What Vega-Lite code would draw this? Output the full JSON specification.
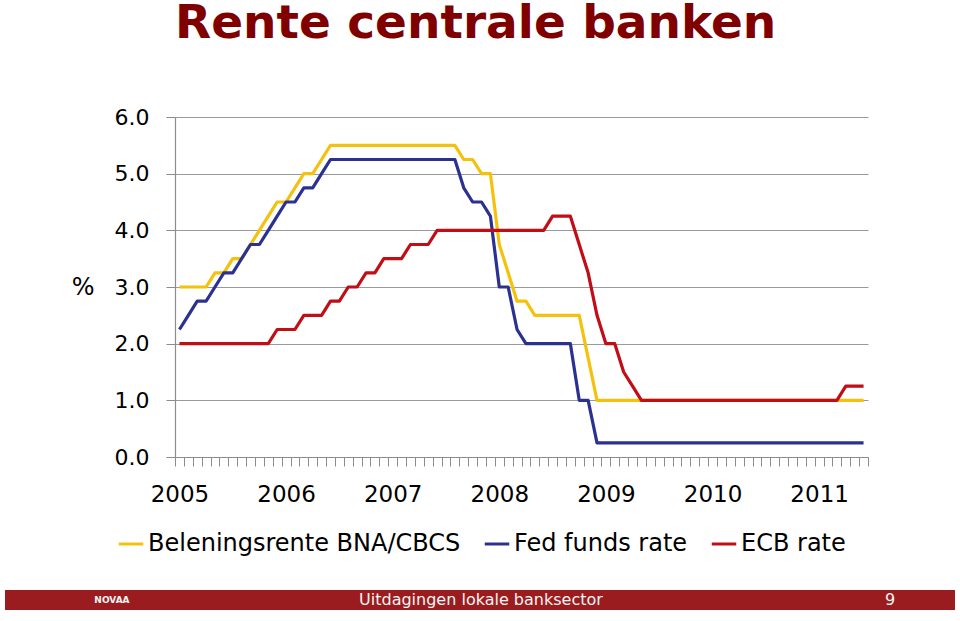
{
  "$schema": "https://vega.github.io/schema/vega-lite/v6.json",
  "background": "white",
  "padding": {"left": 5, "right": 5, "top": 0, "bottom": 0},
  "spacing": 84,
  "config": {"view": {"stroke": null}},
  "vconcat": [
    {
      "spacing": 5,
      "hconcat": [
        {
          "width": 61,
          "height": 340,
          "data": {"values": [{"t": ""}]},
          "mark": {"type": "text"},
          "encoding": {"text": {"field": "t"}}
        },
        {
          "width": 693,
          "height": 340,
          "title": {"text": "Rente centrale banken", "font": "DejaVu Sans", "fontSize": 47, "fontWeight": "bold", "color": "#800000", "anchor": "start", "frame": "group", "offset": 58},
          "data": {"values": [
            {"m":"2005-01","s":"Beleningsrente BNA/CBCS","v":3.0},{"m":"2005-02","s":"Beleningsrente BNA/CBCS","v":3.0},{"m":"2005-03","s":"Beleningsrente BNA/CBCS","v":3.0},{"m":"2005-04","s":"Beleningsrente BNA/CBCS","v":3.0},{"m":"2005-05","s":"Beleningsrente BNA/CBCS","v":3.25},{"m":"2005-06","s":"Beleningsrente BNA/CBCS","v":3.25},{"m":"2005-07","s":"Beleningsrente BNA/CBCS","v":3.5},{"m":"2005-08","s":"Beleningsrente BNA/CBCS","v":3.5},{"m":"2005-09","s":"Beleningsrente BNA/CBCS","v":3.75},{"m":"2005-10","s":"Beleningsrente BNA/CBCS","v":4.0},{"m":"2005-11","s":"Beleningsrente BNA/CBCS","v":4.25},{"m":"2005-12","s":"Beleningsrente BNA/CBCS","v":4.5},
            {"m":"2006-01","s":"Beleningsrente BNA/CBCS","v":4.5},{"m":"2006-02","s":"Beleningsrente BNA/CBCS","v":4.75},{"m":"2006-03","s":"Beleningsrente BNA/CBCS","v":5.0},{"m":"2006-04","s":"Beleningsrente BNA/CBCS","v":5.0},{"m":"2006-05","s":"Beleningsrente BNA/CBCS","v":5.25},{"m":"2006-06","s":"Beleningsrente BNA/CBCS","v":5.5},{"m":"2006-07","s":"Beleningsrente BNA/CBCS","v":5.5},{"m":"2006-08","s":"Beleningsrente BNA/CBCS","v":5.5},{"m":"2006-09","s":"Beleningsrente BNA/CBCS","v":5.5},{"m":"2006-10","s":"Beleningsrente BNA/CBCS","v":5.5},{"m":"2006-11","s":"Beleningsrente BNA/CBCS","v":5.5},{"m":"2006-12","s":"Beleningsrente BNA/CBCS","v":5.5},
            {"m":"2007-01","s":"Beleningsrente BNA/CBCS","v":5.5},{"m":"2007-02","s":"Beleningsrente BNA/CBCS","v":5.5},{"m":"2007-03","s":"Beleningsrente BNA/CBCS","v":5.5},{"m":"2007-04","s":"Beleningsrente BNA/CBCS","v":5.5},{"m":"2007-05","s":"Beleningsrente BNA/CBCS","v":5.5},{"m":"2007-06","s":"Beleningsrente BNA/CBCS","v":5.5},{"m":"2007-07","s":"Beleningsrente BNA/CBCS","v":5.5},{"m":"2007-08","s":"Beleningsrente BNA/CBCS","v":5.5},{"m":"2007-09","s":"Beleningsrente BNA/CBCS","v":5.25},{"m":"2007-10","s":"Beleningsrente BNA/CBCS","v":5.25},{"m":"2007-11","s":"Beleningsrente BNA/CBCS","v":5.0},{"m":"2007-12","s":"Beleningsrente BNA/CBCS","v":5.0},
            {"m":"2008-01","s":"Beleningsrente BNA/CBCS","v":3.75},{"m":"2008-02","s":"Beleningsrente BNA/CBCS","v":3.25},{"m":"2008-03","s":"Beleningsrente BNA/CBCS","v":2.75},{"m":"2008-04","s":"Beleningsrente BNA/CBCS","v":2.75},{"m":"2008-05","s":"Beleningsrente BNA/CBCS","v":2.5},{"m":"2008-06","s":"Beleningsrente BNA/CBCS","v":2.5},{"m":"2008-07","s":"Beleningsrente BNA/CBCS","v":2.5},{"m":"2008-08","s":"Beleningsrente BNA/CBCS","v":2.5},{"m":"2008-09","s":"Beleningsrente BNA/CBCS","v":2.5},{"m":"2008-10","s":"Beleningsrente BNA/CBCS","v":2.5},{"m":"2008-11","s":"Beleningsrente BNA/CBCS","v":1.75},{"m":"2008-12","s":"Beleningsrente BNA/CBCS","v":1.0},
            {"m":"2009-01","s":"Beleningsrente BNA/CBCS","v":1.0},{"m":"2009-02","s":"Beleningsrente BNA/CBCS","v":1.0},{"m":"2009-03","s":"Beleningsrente BNA/CBCS","v":1.0},{"m":"2009-04","s":"Beleningsrente BNA/CBCS","v":1.0},{"m":"2009-05","s":"Beleningsrente BNA/CBCS","v":1.0},{"m":"2009-06","s":"Beleningsrente BNA/CBCS","v":1.0},{"m":"2009-07","s":"Beleningsrente BNA/CBCS","v":1.0},{"m":"2009-08","s":"Beleningsrente BNA/CBCS","v":1.0},{"m":"2009-09","s":"Beleningsrente BNA/CBCS","v":1.0},{"m":"2009-10","s":"Beleningsrente BNA/CBCS","v":1.0},{"m":"2009-11","s":"Beleningsrente BNA/CBCS","v":1.0},{"m":"2009-12","s":"Beleningsrente BNA/CBCS","v":1.0},
            {"m":"2010-01","s":"Beleningsrente BNA/CBCS","v":1.0},{"m":"2010-02","s":"Beleningsrente BNA/CBCS","v":1.0},{"m":"2010-03","s":"Beleningsrente BNA/CBCS","v":1.0},{"m":"2010-04","s":"Beleningsrente BNA/CBCS","v":1.0},{"m":"2010-05","s":"Beleningsrente BNA/CBCS","v":1.0},{"m":"2010-06","s":"Beleningsrente BNA/CBCS","v":1.0},{"m":"2010-07","s":"Beleningsrente BNA/CBCS","v":1.0},{"m":"2010-08","s":"Beleningsrente BNA/CBCS","v":1.0},{"m":"2010-09","s":"Beleningsrente BNA/CBCS","v":1.0},{"m":"2010-10","s":"Beleningsrente BNA/CBCS","v":1.0},{"m":"2010-11","s":"Beleningsrente BNA/CBCS","v":1.0},{"m":"2010-12","s":"Beleningsrente BNA/CBCS","v":1.0},
            {"m":"2011-01","s":"Beleningsrente BNA/CBCS","v":1.0},{"m":"2011-02","s":"Beleningsrente BNA/CBCS","v":1.0},{"m":"2011-03","s":"Beleningsrente BNA/CBCS","v":1.0},{"m":"2011-04","s":"Beleningsrente BNA/CBCS","v":1.0},{"m":"2011-05","s":"Beleningsrente BNA/CBCS","v":1.0},{"m":"2011-06","s":"Beleningsrente BNA/CBCS","v":1.0},

            {"m":"2005-01","s":"Fed funds rate","v":2.25},{"m":"2005-02","s":"Fed funds rate","v":2.5},{"m":"2005-03","s":"Fed funds rate","v":2.75},{"m":"2005-04","s":"Fed funds rate","v":2.75},{"m":"2005-05","s":"Fed funds rate","v":3.0},{"m":"2005-06","s":"Fed funds rate","v":3.25},{"m":"2005-07","s":"Fed funds rate","v":3.25},{"m":"2005-08","s":"Fed funds rate","v":3.5},{"m":"2005-09","s":"Fed funds rate","v":3.75},{"m":"2005-10","s":"Fed funds rate","v":3.75},{"m":"2005-11","s":"Fed funds rate","v":4.0},{"m":"2005-12","s":"Fed funds rate","v":4.25},
            {"m":"2006-01","s":"Fed funds rate","v":4.5},{"m":"2006-02","s":"Fed funds rate","v":4.5},{"m":"2006-03","s":"Fed funds rate","v":4.75},{"m":"2006-04","s":"Fed funds rate","v":4.75},{"m":"2006-05","s":"Fed funds rate","v":5.0},{"m":"2006-06","s":"Fed funds rate","v":5.25},{"m":"2006-07","s":"Fed funds rate","v":5.25},{"m":"2006-08","s":"Fed funds rate","v":5.25},{"m":"2006-09","s":"Fed funds rate","v":5.25},{"m":"2006-10","s":"Fed funds rate","v":5.25},{"m":"2006-11","s":"Fed funds rate","v":5.25},{"m":"2006-12","s":"Fed funds rate","v":5.25},
            {"m":"2007-01","s":"Fed funds rate","v":5.25},{"m":"2007-02","s":"Fed funds rate","v":5.25},{"m":"2007-03","s":"Fed funds rate","v":5.25},{"m":"2007-04","s":"Fed funds rate","v":5.25},{"m":"2007-05","s":"Fed funds rate","v":5.25},{"m":"2007-06","s":"Fed funds rate","v":5.25},{"m":"2007-07","s":"Fed funds rate","v":5.25},{"m":"2007-08","s":"Fed funds rate","v":5.25},{"m":"2007-09","s":"Fed funds rate","v":4.75},{"m":"2007-10","s":"Fed funds rate","v":4.5},{"m":"2007-11","s":"Fed funds rate","v":4.5},{"m":"2007-12","s":"Fed funds rate","v":4.25},
            {"m":"2008-01","s":"Fed funds rate","v":3.0},{"m":"2008-02","s":"Fed funds rate","v":3.0},{"m":"2008-03","s":"Fed funds rate","v":2.25},{"m":"2008-04","s":"Fed funds rate","v":2.0},{"m":"2008-05","s":"Fed funds rate","v":2.0},{"m":"2008-06","s":"Fed funds rate","v":2.0},{"m":"2008-07","s":"Fed funds rate","v":2.0},{"m":"2008-08","s":"Fed funds rate","v":2.0},{"m":"2008-09","s":"Fed funds rate","v":2.0},{"m":"2008-10","s":"Fed funds rate","v":1.0},{"m":"2008-11","s":"Fed funds rate","v":1.0},{"m":"2008-12","s":"Fed funds rate","v":0.25},
            {"m":"2009-01","s":"Fed funds rate","v":0.25},{"m":"2009-02","s":"Fed funds rate","v":0.25},{"m":"2009-03","s":"Fed funds rate","v":0.25},{"m":"2009-04","s":"Fed funds rate","v":0.25},{"m":"2009-05","s":"Fed funds rate","v":0.25},{"m":"2009-06","s":"Fed funds rate","v":0.25},{"m":"2009-07","s":"Fed funds rate","v":0.25},{"m":"2009-08","s":"Fed funds rate","v":0.25},{"m":"2009-09","s":"Fed funds rate","v":0.25},{"m":"2009-10","s":"Fed funds rate","v":0.25},{"m":"2009-11","s":"Fed funds rate","v":0.25},{"m":"2009-12","s":"Fed funds rate","v":0.25},
            {"m":"2010-01","s":"Fed funds rate","v":0.25},{"m":"2010-02","s":"Fed funds rate","v":0.25},{"m":"2010-03","s":"Fed funds rate","v":0.25},{"m":"2010-04","s":"Fed funds rate","v":0.25},{"m":"2010-05","s":"Fed funds rate","v":0.25},{"m":"2010-06","s":"Fed funds rate","v":0.25},{"m":"2010-07","s":"Fed funds rate","v":0.25},{"m":"2010-08","s":"Fed funds rate","v":0.25},{"m":"2010-09","s":"Fed funds rate","v":0.25},{"m":"2010-10","s":"Fed funds rate","v":0.25},{"m":"2010-11","s":"Fed funds rate","v":0.25},{"m":"2010-12","s":"Fed funds rate","v":0.25},
            {"m":"2011-01","s":"Fed funds rate","v":0.25},{"m":"2011-02","s":"Fed funds rate","v":0.25},{"m":"2011-03","s":"Fed funds rate","v":0.25},{"m":"2011-04","s":"Fed funds rate","v":0.25},{"m":"2011-05","s":"Fed funds rate","v":0.25},{"m":"2011-06","s":"Fed funds rate","v":0.25},

            {"m":"2005-01","s":"ECB rate","v":2.0},{"m":"2005-02","s":"ECB rate","v":2.0},{"m":"2005-03","s":"ECB rate","v":2.0},{"m":"2005-04","s":"ECB rate","v":2.0},{"m":"2005-05","s":"ECB rate","v":2.0},{"m":"2005-06","s":"ECB rate","v":2.0},{"m":"2005-07","s":"ECB rate","v":2.0},{"m":"2005-08","s":"ECB rate","v":2.0},{"m":"2005-09","s":"ECB rate","v":2.0},{"m":"2005-10","s":"ECB rate","v":2.0},{"m":"2005-11","s":"ECB rate","v":2.0},{"m":"2005-12","s":"ECB rate","v":2.25},
            {"m":"2006-01","s":"ECB rate","v":2.25},{"m":"2006-02","s":"ECB rate","v":2.25},{"m":"2006-03","s":"ECB rate","v":2.5},{"m":"2006-04","s":"ECB rate","v":2.5},{"m":"2006-05","s":"ECB rate","v":2.5},{"m":"2006-06","s":"ECB rate","v":2.75},{"m":"2006-07","s":"ECB rate","v":2.75},{"m":"2006-08","s":"ECB rate","v":3.0},{"m":"2006-09","s":"ECB rate","v":3.0},{"m":"2006-10","s":"ECB rate","v":3.25},{"m":"2006-11","s":"ECB rate","v":3.25},{"m":"2006-12","s":"ECB rate","v":3.5},
            {"m":"2007-01","s":"ECB rate","v":3.5},{"m":"2007-02","s":"ECB rate","v":3.5},{"m":"2007-03","s":"ECB rate","v":3.75},{"m":"2007-04","s":"ECB rate","v":3.75},{"m":"2007-05","s":"ECB rate","v":3.75},{"m":"2007-06","s":"ECB rate","v":4.0},{"m":"2007-07","s":"ECB rate","v":4.0},{"m":"2007-08","s":"ECB rate","v":4.0},{"m":"2007-09","s":"ECB rate","v":4.0},{"m":"2007-10","s":"ECB rate","v":4.0},{"m":"2007-11","s":"ECB rate","v":4.0},{"m":"2007-12","s":"ECB rate","v":4.0},
            {"m":"2008-01","s":"ECB rate","v":4.0},{"m":"2008-02","s":"ECB rate","v":4.0},{"m":"2008-03","s":"ECB rate","v":4.0},{"m":"2008-04","s":"ECB rate","v":4.0},{"m":"2008-05","s":"ECB rate","v":4.0},{"m":"2008-06","s":"ECB rate","v":4.0},{"m":"2008-07","s":"ECB rate","v":4.25},{"m":"2008-08","s":"ECB rate","v":4.25},{"m":"2008-09","s":"ECB rate","v":4.25},{"m":"2008-10","s":"ECB rate","v":3.75},{"m":"2008-11","s":"ECB rate","v":3.25},{"m":"2008-12","s":"ECB rate","v":2.5},
            {"m":"2009-01","s":"ECB rate","v":2.0},{"m":"2009-02","s":"ECB rate","v":2.0},{"m":"2009-03","s":"ECB rate","v":1.5},{"m":"2009-04","s":"ECB rate","v":1.25},{"m":"2009-05","s":"ECB rate","v":1.0},{"m":"2009-06","s":"ECB rate","v":1.0},{"m":"2009-07","s":"ECB rate","v":1.0},{"m":"2009-08","s":"ECB rate","v":1.0},{"m":"2009-09","s":"ECB rate","v":1.0},{"m":"2009-10","s":"ECB rate","v":1.0},{"m":"2009-11","s":"ECB rate","v":1.0},{"m":"2009-12","s":"ECB rate","v":1.0},
            {"m":"2010-01","s":"ECB rate","v":1.0},{"m":"2010-02","s":"ECB rate","v":1.0},{"m":"2010-03","s":"ECB rate","v":1.0},{"m":"2010-04","s":"ECB rate","v":1.0},{"m":"2010-05","s":"ECB rate","v":1.0},{"m":"2010-06","s":"ECB rate","v":1.0},{"m":"2010-07","s":"ECB rate","v":1.0},{"m":"2010-08","s":"ECB rate","v":1.0},{"m":"2010-09","s":"ECB rate","v":1.0},{"m":"2010-10","s":"ECB rate","v":1.0},{"m":"2010-11","s":"ECB rate","v":1.0},{"m":"2010-12","s":"ECB rate","v":1.0},
            {"m":"2011-01","s":"ECB rate","v":1.0},{"m":"2011-02","s":"ECB rate","v":1.0},{"m":"2011-03","s":"ECB rate","v":1.0},{"m":"2011-04","s":"ECB rate","v":1.25},{"m":"2011-05","s":"ECB rate","v":1.25},{"m":"2011-06","s":"ECB rate","v":1.25}
          ]},
          "mark": {"type": "line", "strokeWidth": 3.2, "strokeJoin": "round"},
          "encoding": {
            "x": {
              "field": "m", "type": "ordinal", "bandPosition": 0.5,
              "scale": {"type": "band", "paddingInner": 0, "paddingOuter": 0},
              "axis": {
                "title": null,
                "labelExpr": "substring(datum.value, 5, 7) == '01' ? substring(datum.value, 0, 4) : ''",
                "labelAngle": 0, "labelFont": "DejaVu Sans", "labelFontSize": 23, "labelColor": "black",
                "labelPadding": 17, "labelOverlap": false, "labelBound": false,
                "tickBand": "extent", "tickSize": 9, "tickColor": "#8c8c8c", "tickWidth": 1,
                "domainColor": "#8c8c8c", "domainWidth": 1.2, "grid": false
              }
            },
            "y": {
              "field": "v", "type": "quantitative",
              "scale": {"domain": [0, 6], "nice": false},
              "axis": {
                "values": [0, 1, 2, 3, 4, 5, 6], "format": ".1f",
                "title": "%", "titleAngle": 0, "titleFont": "DejaVu Sans", "titleFontSize": 24, "titleFontWeight": "normal", "titleColor": "black",
                "titlePadding": 20, "titleAlign": "right", "titleBaseline": "middle",
                "labelFont": "DejaVu Sans", "labelFontSize": 22, "labelColor": "black", "labelPadding": 17,
                "tickSize": 9, "tickColor": "#8c8c8c", "domainColor": "#8c8c8c", "domainWidth": 1.2,
                "gridColor": "#9a9a9a", "gridWidth": 1.2
              }
            },
            "color": {
              "field": "s", "type": "nominal",
              "scale": {"domain": ["Beleningsrente BNA/CBCS", "Fed funds rate", "ECB rate"], "range": ["#F4C20D", "#2B3190", "#C00D16"]},
              "legend": {
                "title": null, "orient": "none", "direction": "horizontal", "legendX": 112, "legendY": 413,
                "labelFont": "DejaVu Sans", "labelFontSize": 24, "labelColor": "black", "labelLimit": 400,
                "symbolType": "stroke", "symbolSize": 600, "symbolStrokeWidth": 3, "labelOffset": 3,
                "columnPadding": 17, "padding": 0
              }
            }
          }
        }
      ]
    },
    {
      "width": 950,
      "height": 20,
      "view": {"fill": "#9B1C1F", "stroke": null},
      "data": {"values": [
        {"pos": 0.501, "label": "Uitdagingen lokale banksector", "kind": "text"},
        {"pos": 0.9316, "label": "9", "kind": "text"},
        {"pos": 0.1126, "label": "NOVAA", "kind": "logo"}
      ]},
      "layer": [
        {
          "transform": [{"filter": "datum.kind == 'text'"}],
          "mark": {"type": "text", "color": "#F4F4F4", "font": "DejaVu Sans", "fontSize": 16, "baseline": "middle", "align": "center"},
          "encoding": {
            "x": {"field": "pos", "type": "quantitative", "scale": {"domain": [0, 1]}, "axis": null},
            "text": {"field": "label"}
          }
        },
        {
          "transform": [{"filter": "datum.kind == 'logo'"}],
          "mark": {"type": "text", "color": "#F4F4F4", "font": "DejaVu Sans", "fontSize": 9, "fontWeight": "bold", "baseline": "middle", "align": "center"},
          "encoding": {
            "x": {"field": "pos", "type": "quantitative", "scale": {"domain": [0, 1]}, "axis": null},
            "text": {"field": "label"}
          }
        }
      ]
    }
  ]
}
